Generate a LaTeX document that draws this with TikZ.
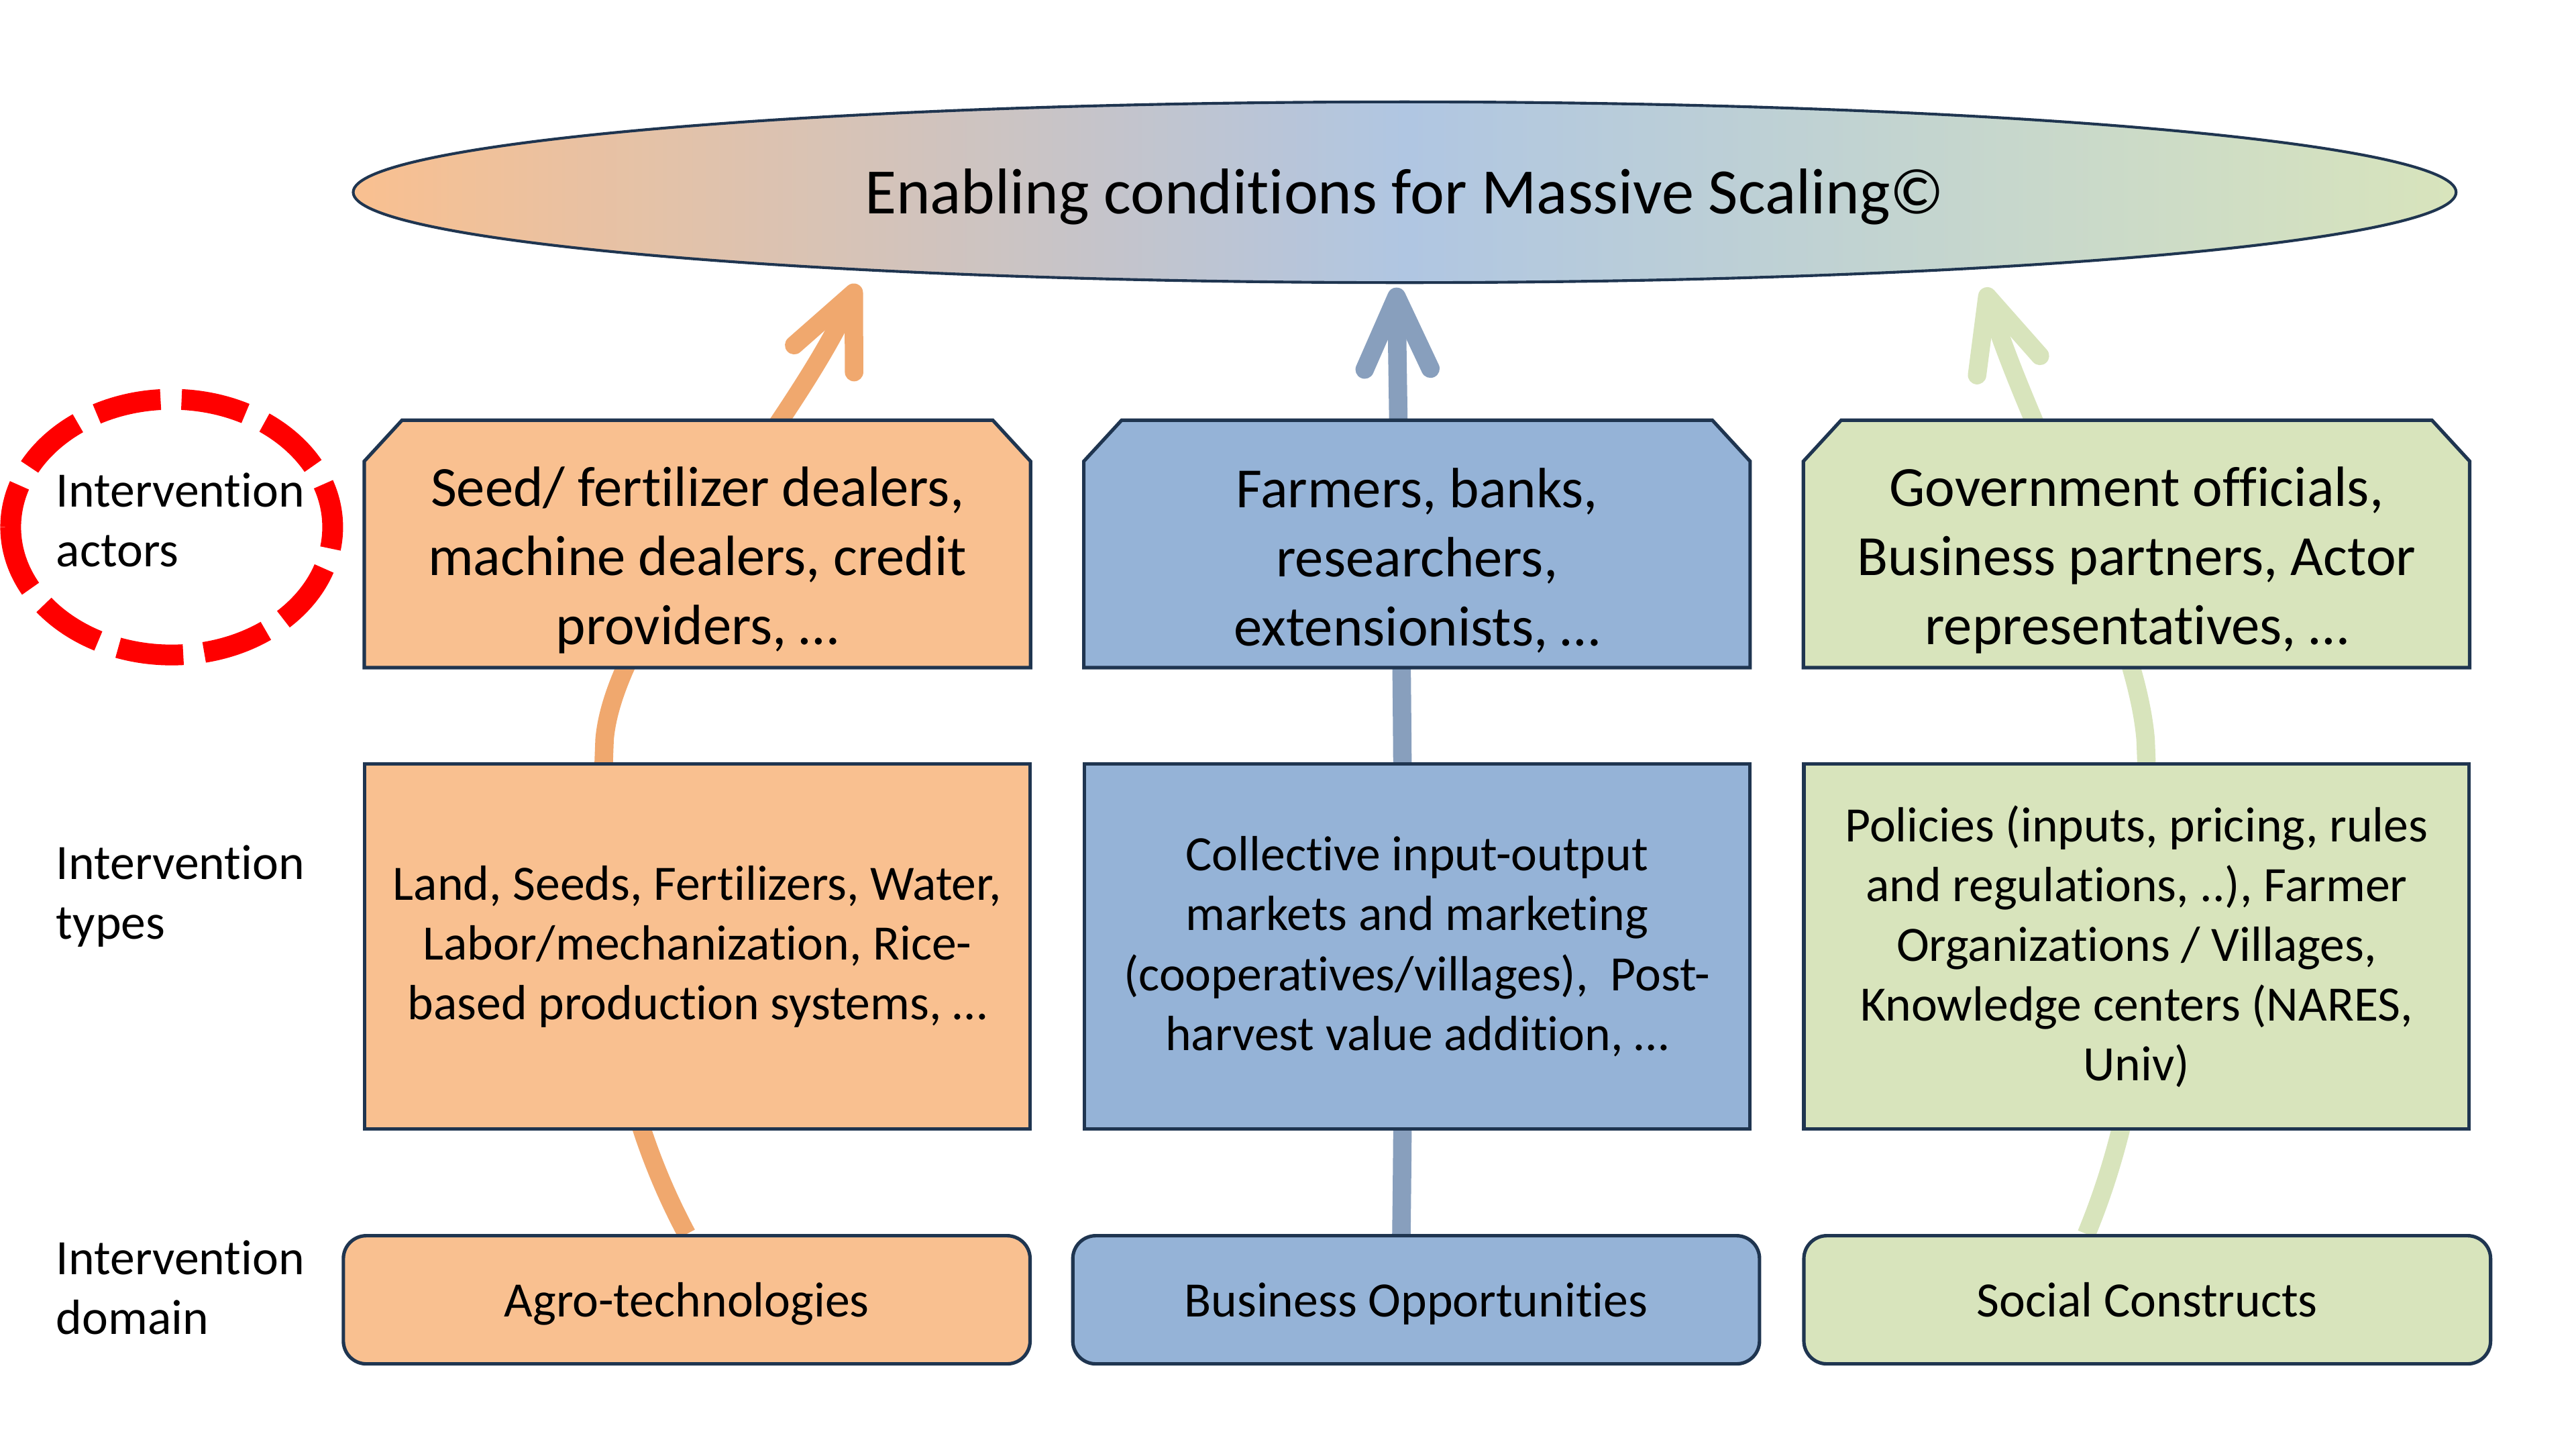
\documentclass[tikz,border=0pt]{standalone}
\usepackage{fontspec}
\setmainfont{Carlito}[Ligatures=NoCommon]
\usetikzlibrary{arrows.meta,shapes.geometric}

\definecolor{navy}{HTML}{1F3550}
\definecolor{agroF}{HTML}{F9C090}
\definecolor{busiF}{HTML}{95B3D7}
\definecolor{socF}{HTML}{D8E4BC}
\definecolor{agroA}{HTML}{F0A86E}
\definecolor{busiA}{HTML}{889FBD}
\definecolor{goalM}{HTML}{B0C6E2}
\pgfdeclarelayer{background}
\pgfdeclarelayer{boxes}
\pgfsetlayers{background,boxes,main}

\begin{document}
\begin{tikzpicture}[
    actorbox/.style={rectangle, inner sep=0pt, minimum width=10.125cm, minimum height=3.25cm,
      align=center, font=\fontsize{24.6}{29.9}\selectfont},
    typebox/.style={rectangle, draw=navy, line width=1.5pt, inner sep=0pt,
      minimum width=10.125cm, minimum height=5.55cm, align=center,
      font=\fontsize{21.4}{25.9}\selectfont},
    domainbox/.style={rectangle, rounded corners=0.35cm, draw=navy, line width=1.5pt,
      minimum width=10.45cm, minimum height=1.95cm, text height=15pt, text depth=0pt,
      font=\fontsize{21.4}{25.9}\selectfont},
    rowlabel/.style={anchor=west, align=left, inner sep=0pt,
      font=\fontsize{21.4}{25.9}\selectfont},
    flow/.style={line width=8pt, -{Straight Barb[length=1.1cm, width=1cm, round]}},
  ]
    \begin{pgfonlayer}{background}
      \fill[white] (0,0) rectangle (39.2,22.05);
    \end{pgfonlayer}
    \useasboundingbox (0,0) rectangle (39.2,22.05);

    % Goal
    \node[ellipse, draw=navy, line width=1.2pt, minimum width=32cm, minimum height=2.75cm,
      left color=agroF, right color=socF, middle color=goalM, text depth=0.1em,
      font=\fontsize{28}{34}\selectfont] (goal) at (21.375,19.125)
      {Enabling conditions for Massive Scaling©};

    % Row labels
    \node[rowlabel] (lblact) at (0.85,14.1375) {Intervention\\actors};
    \node[rowlabel] (lbltyp) at (0.85,8.4125) {Intervention\\types};
    \node[rowlabel] (lbldom) at (0.85,2.4625) {Intervention\\domain};
    \draw[red, line width=9pt, dash pattern=on 1cm off 0.32cm]
      (0.1625,14.03) arc[start angle=180, end angle=540, x radius=2.45cm, y radius=1.945cm];

    % Intervention actors (outlines drawn below)
    \node[actorbox] (actA) at (10.6125,13.525)
      {Seed/ fertilizer dealers,\\machine dealers, credit\\providers, …};
    \node[actorbox] (actB) at (21.5625,13.525)
      {Farmers, banks,\\researchers,\\extensionists, …};
    \node[actorbox] (actC) at (32.5125,13.525)
      {Government officials,\\Business partners, Actor\\representatives, …};
    \begin{pgfonlayer}{boxes}
      \foreach \n/\c in {actA/agroF, actB/busiF, actC/socF}
        \draw[navy, line width=1.5pt, fill=\c] (\n.south west) -- ([yshift=-0.125cm]\n.north west)
          -- ([xshift=0.575cm, yshift=0.5cm]\n.north west) -- ([xshift=-0.575cm, yshift=0.5cm]\n.north east)
          -- ([yshift=-0.125cm]\n.north east) -- (\n.south east) -- cycle;
    \end{pgfonlayer}

    % Intervention types
    \node[typebox, fill=agroF] (typA) at (10.6125,7.65)
      {Land, Seeds, Fertilizers, Water,\\Labor/mechanization, Rice-\\based production systems, …};
    \node[typebox, fill=busiF] (typB) at (21.5625,7.65)
      {Collective input-output\\markets and marketing\\(cooperatives/villages),~ Post-\\harvest value addition, …};
    \node[typebox, fill=socF] (typC) at (32.5125,7.65)
      {Policies (inputs, pricing, rules\\and regulations, ..), Farmer\\Organizations / Villages,\\Knowledge centers (NARES,\\Univ)};

    % Intervention domains
    \node[domainbox, fill=agroF] (domA) at (10.45,2.275) {Agro-technologies};
    \node[domainbox, fill=busiF] (domB) at (21.55,2.275) {Business Opportunities};
    \node[domainbox, fill=socF] (domC) at (32.675,2.275) {Social Constructs};

    % Arrow tips under the goal
    \coordinate (tipA) at (13.05,17.725);
    \coordinate (tipB) at (21.25,17.675);
    \coordinate (tipC) at (30.2,17.675);

    \begin{pgfonlayer}{background}
      \draw[flow, agroA] (domA.north) .. controls (9.125,5.75) and (9.1,8.3) .. (9.2,10.8)
        .. controls (9.35,12.6) and (12.0375,15.475) .. (tipA);
      \draw[flow, busiA] ([xshift=-0.225cm]domB.north) .. controls (21.4,9) and (21.3,14) .. (tipB);
      \draw[flow, socF] ([xshift=-0.925cm]domC.north) .. controls (32.775,5.75) and (32.75,8.3) .. (32.65,10.8)
        .. controls (32.5,12.6) and (30.875,15.475) .. (tipC);
    \end{pgfonlayer}
\end{tikzpicture}
\end{document}
